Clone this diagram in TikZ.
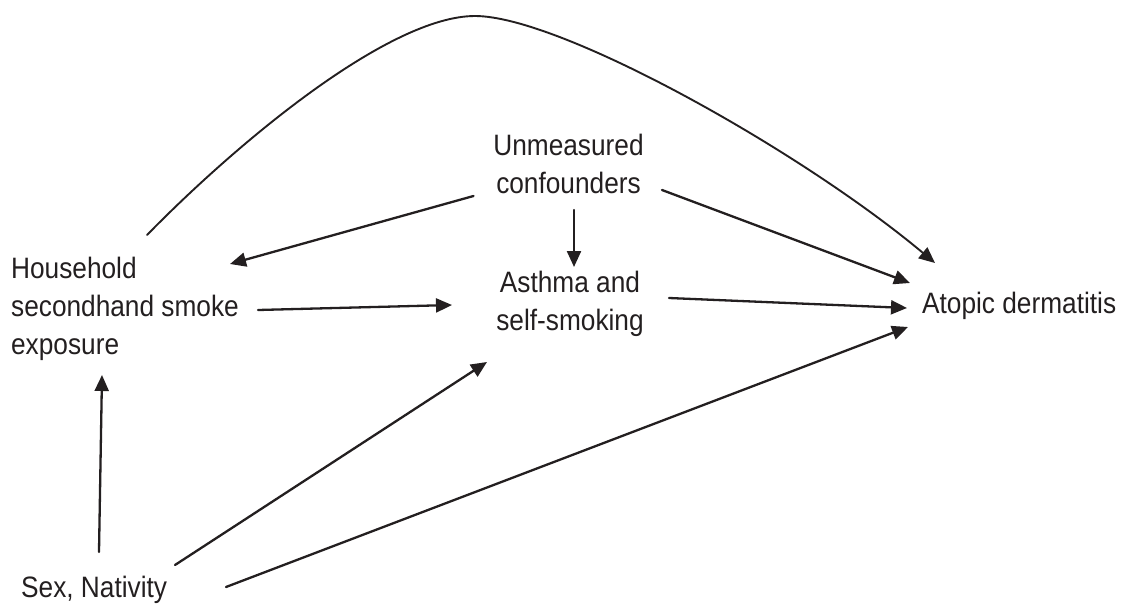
\documentclass[tikz,border=0pt]{standalone}
\usepackage{fontspec}
\setmainfont[FakeStretch=0.89]{Liberation Sans}
\usetikzlibrary{arrows.meta}
\definecolor{ink}{RGB}{35,31,32}

\begin{document}
\begin{tikzpicture}[x=1pt, y=-1pt, line width=2.3pt, line cap=round, line join=round, color=ink,
  lbl/.style={inner sep=0pt, font=\fontsize{29.5}{38}\selectfont},
  arr/.style={-{Triangle[length=16pt,width=14pt]}}]

  %% ════ 结点（按参考图的文字框定位）════
  \node[lbl, anchor=north west, align=left] (house) at (10,256) {Household\\secondhand smoke\\exposure};
  \node[lbl, anchor=north, align=center] (unm) at (568.5,133) {Unmeasured\\confounders};
  \node[lbl, anchor=north, align=center] (asthma) at (570,270) {Asthma and\\self-smoking};
  \node[lbl, anchor=base west] (atopic) at (921,313) {Atopic dermatitis};
  \node[lbl, anchor=base west] (sex) at (20,597) {Sex, Nativity};

  %% ════ 直线箭头（端点 = 结点锚点 + 偏移）════
  \draw[arr] ([shift={(-95,63)}]unm.north) -- ([shift={(220,8)}]house.north west);
  \draw[arr] ([shift={(5.5,77)}]unm.north) -- ([shift={(4,-3)}]asthma.north);
  \draw[arr] ([shift={(93.5,57)}]unm.north) -- ([shift={(-11,-30)}]atopic.base west);
  \draw[arr] ([shift={(248,54)}]house.north west) -- ([shift={(-118,35)}]asthma.north);
  \draw[arr] ([shift={(99,28)}]asthma.north) -- ([shift={(-14,-5)}]atopic.base west);
  \draw[arr] ([shift={(79,-45)}]sex.base west) -- ([shift={(92,119)}]house.north west);
  \draw[arr] ([shift={(155,-32)}]sex.base west) -- ([shift={(-83,92)}]asthma.north);
  \draw[arr] ([shift={(206,-10)}]sex.base west) -- ([shift={(-13,14)}]atopic.base west);

  %% ════ 曲线（两段三次，峰值约在 (475,16)）════
  \draw[arr, line width=1.9pt] ([shift={(137,-21)}]house.north west)
    .. controls (240,140) and (390,16) .. (475,16)
    .. controls (560,16) and (800,150) .. ([shift={(14,-50)}]atopic.base west);

  % 钉死画布
  \pgfresetboundingbox
  \path[use as bounding box] (0,0) rectangle (1122,605);
\end{tikzpicture}
\end{document}
